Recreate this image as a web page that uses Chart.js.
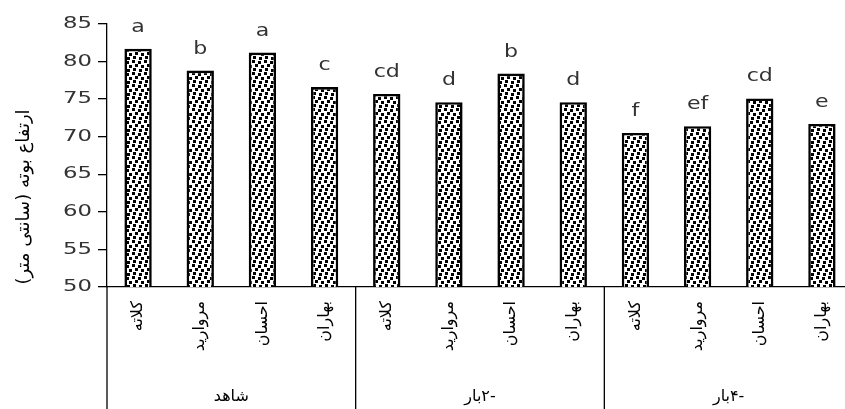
<!DOCTYPE html>
<html>
<head>
<meta charset="utf-8">
<script src="https://cdn.jsdelivr.net/npm/chart.js@4"></script>
<style>
  html, body { margin: 0; padding: 0; overflow: hidden; background: #fff; }
  canvas { display: block; }
</style>
</head>
<body>
<canvas id="height-chart" dir="rtl" width="862" height="409"></canvas>
<script>
// groups (treatments) and cultivars in each group
const groups = ['شاهد', '-۲بار', '-۴بار'];
const cultivars = ['کلاته', 'مروارید', 'احسان', 'بهاران'];
// plant height (cm), one per bar, group by group
const heights = [81.7, 78.8, 81.2, 76.6, 75.7, 74.6, 78.4, 74.6, 70.5, 71.4, 75.1, 71.7];
const letters = ['a', 'b', 'a', 'c', 'cd', 'd', 'b', 'd', 'f', 'ef', 'cd', 'e'];
const yTicks = [50, 55, 60, 65, 70, 75, 80, 85];
const yTitle = 'ارتفاع بوته (سانتی متر)';

const labels = groups.flatMap(() => cultivars);
const latinFont = '"DejaVu Sans", sans-serif';
const arabicFont = '"DejaVu Sans", sans-serif';
const textStretch = 1.42; // the source chart's text is drawn wide

function makeDotPattern(ctx) {
    const tile = document.createElement('canvas');
    tile.width = 12;
    tile.height = 12;
    const t = tile.getContext('2d');
    t.fillStyle = '#fff';
    t.fillRect(0, 0, 12, 12);
    t.fillStyle = '#000';
    [[0, 0], [6, 1], [3, 4], [9, 5], [1, 8], [7, 9]]
        .forEach(([x, y]) => t.fillRect(x, y, 3, 3));
    return ctx.createPattern(tile, 'repeat');
}

function wideText(ctx, text, x, y, stretch) {
    ctx.save();
    ctx.translate(x, y);
    ctx.scale(stretch, 1);
    ctx.fillText(text, 0, 0);
    ctx.restore();
}

// draws the grouped axis, tick values, letters above bars and the y title
const extrasPlugin = {
    id: 'extras',
    afterDraw(chart) {
        const ctx = chart.ctx;
        const xScale = chart.scales.x;
        const yScale = chart.scales.y;
        const area = chart.chartArea;
        const bottom = chart.height;
        ctx.save();
        ctx.strokeStyle = '#000';
        ctx.lineWidth = 1.3;

        // y axis runs down through the label area
        ctx.beginPath();
        ctx.moveTo(area.left, area.bottom);
        ctx.lineTo(area.left, bottom);
        ctx.stroke();

        // group separators
        for (let g = 1; g < groups.length; g++) {
            const i = g * cultivars.length;
            const x = (xScale.getPixelForValue(i - 1) + xScale.getPixelForValue(i)) / 2;
            ctx.beginPath();
            ctx.moveTo(x, area.bottom);
            ctx.lineTo(x, bottom);
            ctx.stroke();
        }

        // group names
        ctx.fillStyle = '#000';
        ctx.direction = 'rtl';
        ctx.textAlign = 'center';
        ctx.textBaseline = 'middle';
        ctx.font = '16px ' + arabicFont;
        groups.forEach((name, g) => {
            const first = g * cultivars.length;
            const last = first + cultivars.length - 1;
            const x = (xScale.getPixelForValue(first) + xScale.getPixelForValue(last)) / 2;
            ctx.fillText(name, x, 397);
        });

        // y axis title
        ctx.save();
        ctx.translate(24, 197);
        ctx.rotate(-Math.PI / 2);
        ctx.font = '18px ' + arabicFont;
        ctx.fillText(yTitle, 0, 0);
        ctx.restore();

        // y tick values
        ctx.direction = 'ltr';
        ctx.fillStyle = '#333';
        ctx.font = '16px ' + latinFont;
        ctx.textAlign = 'right';
        yTicks.forEach(v => {
            wideText(ctx, String(v), area.left - 15, yScale.getPixelForValue(v), textStretch);
        });

        // significance letters
        ctx.textAlign = 'center';
        ctx.textBaseline = 'alphabetic';
        ctx.font = '17px ' + latinFont;
        chart.getDatasetMeta(0).data.forEach((bar, i) => {
            wideText(ctx, letters[i], bar.x, bar.y - 17, 1.3);
        });
        ctx.restore();
    }
};

const canvas = document.getElementById('height-chart');
const ctx = canvas.getContext('2d');

new Chart(ctx, {
    type: 'bar',
    data: {
        labels: labels,
        datasets: [{
            data: heights,
            backgroundColor: makeDotPattern(ctx),
            borderColor: '#000',
            borderWidth: 2.6,
            borderSkipped: 'bottom',
            barPercentage: 0.44,
            categoryPercentage: 1,
        }],
    },
    options: {
        responsive: false,
        animation: false,
        devicePixelRatio: 1,
        layout: { padding: { top: 24, right: 9, left: 0, bottom: 0 } },
        plugins: {
            legend: { display: false },
            tooltip: { enabled: false },
        },
        scales: {
            x: {
                grid: { display: false, drawTicks: false },
                border: { color: '#000', width: 1.3 },
                ticks: {
                    autoSkip: false,
                    maxRotation: 90,
                    minRotation: 90,
                    padding: 14,
                    color: '#000',
                    font: { family: arabicFont, size: 16 },
                },
                afterFit: (scale) => { scale.height = 122; },
            },
            y: {
                min: yTicks[0],
                max: yTicks[yTicks.length - 1],
                grid: { drawOnChartArea: false, color: '#000', lineWidth: 1.3, tickLength: 9 },
                border: { color: '#000', width: 1.3 },
                ticks: {
                    display: false,
                    stepSize: yTicks[1] - yTicks[0],
                },
                afterFit: (scale) => { scale.width = 107; },
            },
        },
    },
    plugins: [extrasPlugin],
});
</script>
</body>
</html>
